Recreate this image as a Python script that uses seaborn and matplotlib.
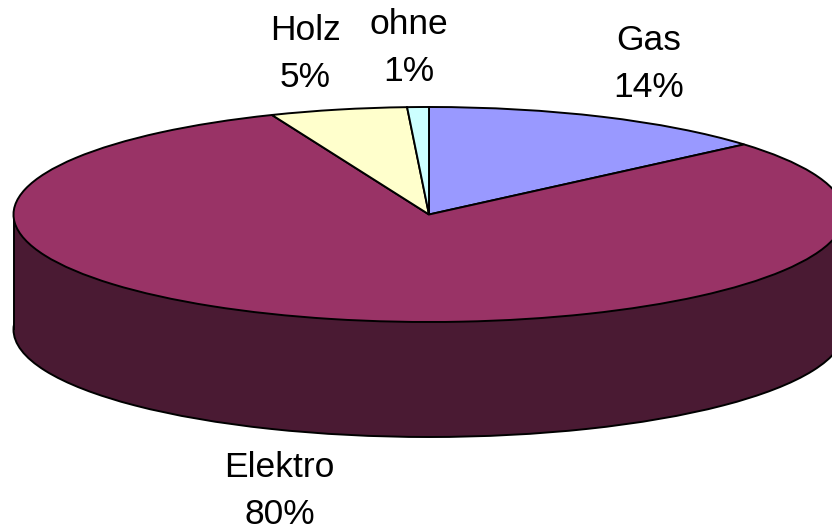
import matplotlib
matplotlib.use("Agg")
import matplotlib.pyplot as plt
import seaborn as sns

categories = ['Gas', 'Elektro', 'Holz', 'ohne']
shares = [13.7, 80.13, 5.33, 0.84]
percent_labels = ['14%', '80%', '5%', '1%']
top_colors = ['#9999FF', '#993366', '#FFFFCC', '#CCFFFF']
side_color = '#4A1A33'

sns.set_theme(style='white')
plt.rcParams['font.family'] = ['Liberation Sans', 'DejaVu Sans']

W, H = 832, 527
CX, CY = 429, 214.5
RX, RY = 415.5, 107.5
DEPTH = 115 / RY

# pie is drawn in unit circle coords, the axes limits squash it to an ellipse
def px(x):
    return (x - CX) / RX

def py(y):
    return (CY - y) / RY

fig = plt.figure(figsize=(W / 100, H / 100), dpi=100)
ax = fig.add_axes([0, 0, 1, 1])

ax.pie([100], colors=[side_color], center=(0, -DEPTH), startangle=90,
       wedgeprops=dict(edgecolor='black', linewidth=1.4))
ax.fill_between([-1, 1], [-DEPTH, -DEPTH], [0, 0], color=side_color, linewidth=0, zorder=1.5)
ax.vlines([-1, 1], -DEPTH, 0, color='black', linewidth=1.4, zorder=1.6)
wedges, _ = ax.pie(shares, colors=top_colors, startangle=90, counterclock=False,
                   wedgeprops=dict(edgecolor='black', linewidth=1.4))
for w in wedges:
    w.set_zorder(3)

ax.set_aspect('auto')
ax.set_xlim(px(0), px(W))
ax.set_ylim(py(H), py(0))
ax.axis('off')

# x centre and baseline of the lower text line
label_pos = {'Gas': (649, 97), 'Elektro': (279.5, 524), 'Holz': (305.5, 87), 'ohne': (408.5, 81)}
for name, pct in zip(categories, percent_labels):
    x, y = label_pos[name]
    ax.text(px(x), py(y), f'{name}\n{pct}', ha='center', va='baseline', fontsize=25.5,
            color='black', linespacing=1.55, zorder=5)

fig.savefig('out.png', dpi=100)
